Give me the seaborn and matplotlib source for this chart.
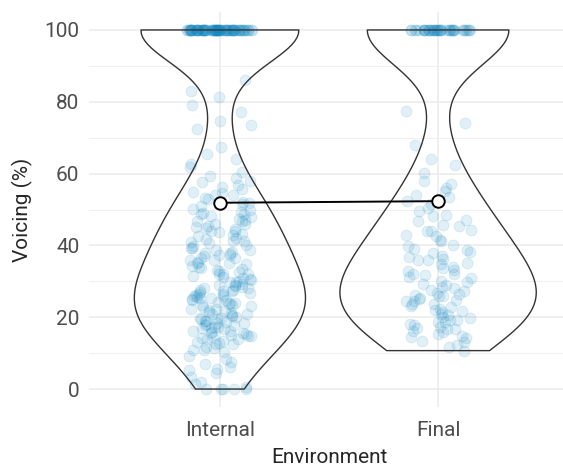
import numpy as np
import pandas as pd
import seaborn as sns
import matplotlib.pyplot as plt

# voicing values (%), body of each distribution
internal_vals = [0, 0, 0, 0, 0, 0.6, 1.5, 2.1, 3.3, 4.4, 5.2, 5.7, 6.2, 6.9, 7.6, 8.4, 9.2,
                 10.2, 10.9, 11.3, 11.8, 12.5, 12.6, 13.2, 13.4, 13.9, 14.0, 14.1, 14.6, 14.7, 14.9, 15.0, 15.3,
                 15.7, 15.8, 16.1, 16.2, 16.6, 16.9, 17.0, 17.3, 17.4, 17.8, 18.0, 18.3, 18.4, 18.8, 18.9, 19.0,
                 19.4, 19.5, 19.8, 19.9, 11.0, 12.8, 15.5, 17.9,
                 20.1, 20.3, 20.7, 20.8, 21.2, 21.5, 21.6, 22.1, 22.2, 22.4, 22.8, 23.1, 23.3, 23.4, 23.9, 24.0,
                 24.3, 24.7, 24.8, 25.2, 25.3, 25.6, 25.8, 26.1, 26.5, 26.6, 26.8, 27.3, 27.4, 27.6, 28.1, 28.2,
                 28.4, 28.9, 29.0, 29.2, 29.7, 29.8, 21.0, 23.8, 25.4, 26.0, 27.1, 27.5, 28.6,
                 30.0, 30.5, 30.9, 31.1, 31.4, 31.9, 32.1, 32.6, 32.8, 33.1, 33.7, 33.9, 34.2, 34.7, 35.1, 35.2,
                 35.8, 36.0, 36.5, 36.6, 37.2, 37.3, 37.9, 38.0, 38.6, 38.7, 39.3, 39.4, 39.9, 30.6, 32.0, 33.5,
                 35.4, 37.0, 38.2,
                 40.1, 40.7, 41.0, 41.3, 41.9, 42.1, 42.7, 43.0, 43.3, 43.9, 44.1, 44.7, 45.0, 45.3, 45.9, 46.1,
                 46.7, 47.0, 47.3, 47.9, 48.1, 48.7, 49.0, 49.3, 49.9, 41.2, 43.6, 44.9, 46.8, 48.8,
                 50.2, 50.9, 51.6, 52.0, 52.8, 53.2, 53.9, 54.6, 55.0, 55.8, 56.2, 56.9, 57.6, 58.0, 58.8, 59.2,
                 51.8, 54.1,
                 60.4, 61.9, 62.8, 64.1, 65.5, 67.4,
                 72.4, 73.5, 74.6, 77.1, 79.2,
                 81.2, 83.1, 86.0]
internal_at_100 = 82

final_vals = [10.7, 11.6, 12.2, 13.1, 13.5, 14.3, 14.7, 15.4, 15.8, 16.1, 16.7, 17.0, 17.3, 17.9, 18.0, 18.6,
              18.7, 19.2, 19.3, 19.8, 14.5, 16.8,
              20.0, 20.6, 20.8, 21.4, 21.6, 22.1, 22.3, 22.9, 23.1, 23.6, 23.8, 24.4, 24.5, 25.1, 25.3, 25.9,
              26.0, 26.6, 26.8, 27.4, 27.6, 28.2, 28.4, 29.0, 29.2, 29.8, 24.9, 26.3,
              30.1, 30.8, 31.1, 31.8, 32.1, 32.8, 33.1, 33.8, 34.1, 34.8, 35.1, 35.8, 36.1, 36.8, 37.1, 37.8,
              38.1, 38.8, 39.1, 39.8, 31.9, 35.9,
              40.2, 41.1, 41.6, 42.5, 43.0, 43.9, 44.4, 45.3, 45.8, 46.7, 47.2, 48.1, 48.6, 49.5, 44.0,
              50.4, 51.6, 52.4, 53.4, 54.1, 55.1, 55.9, 57.1, 57.9,
              60.2, 62.4, 64.1, 67.9,
              74.1, 77.4]
final_at_100 = 41

env_order = ["Internal", "Final"]

voicing = internal_vals + [100.0] * internal_at_100 + final_vals + [100.0] * final_at_100
env = (["Internal"] * (len(internal_vals) + internal_at_100)
       + ["Final"] * (len(final_vals) + final_at_100))
df = pd.DataFrame({"Environment": env, "Voicing": voicing})

sns.set_style("whitegrid")
plt.rcParams['font.family'] = ['Roboto', 'DejaVu Sans']

fig = plt.figure(figsize=(5.63, 4.66), dpi=100)
ax = fig.add_axes([89 / 563, 59 / 466, 480 / 563, 395 / 466])

np.random.seed(3)
sns.stripplot(data=df, x="Environment", y="Voicing", order=env_order, jitter=0.15,
              color="#0a85c2", alpha=0.12, size=7.8, linewidth=0.7, edgecolor="#0a85c2", ax=ax, zorder=2)
sns.violinplot(data=df, x="Environment", y="Voicing", order=env_order, cut=0, density_norm="area",
               fill=False, inner=None, color="#333333", linecolor="#333333", linewidth=1,
               bw_method="scott", bw_adjust=0.8, width=0.9, ax=ax, zorder=3)
sns.pointplot(data=df, x="Environment", y="Voicing", order=env_order, errorbar=None,
              color="black", markers="o", markersize=9, markerfacecolor="white",
              markeredgecolor="black", markeredgewidth=1.4, linewidth=1.4, ax=ax, zorder=5)

ax.set_xlim(-0.6, 1.6)
ax.set_ylim(-5, 105)
ax.set_yticks([0, 20, 40, 60, 80, 100])
ax.set_yticks([10, 30, 50, 70, 90], minor=True)
ax.grid(which="major", color="#EBEBEB", linewidth=1.1)
ax.grid(which="minor", axis="y", color="#F0F0F0", linewidth=0.7)
ax.set_axisbelow(True)
for s in ax.spines.values():
    s.set_visible(False)
ax.tick_params(which="both", length=0, labelsize=15, labelcolor="#4D4D4D")
ax.tick_params(axis="x", pad=10)
ax.tick_params(axis="y", pad=7)
ax.set_xlabel("Environment", fontsize=15, labelpad=6)
ax.set_ylabel("Voicing (%)", fontsize=15, labelpad=8)

plt.savefig("out.png", dpi=100)
